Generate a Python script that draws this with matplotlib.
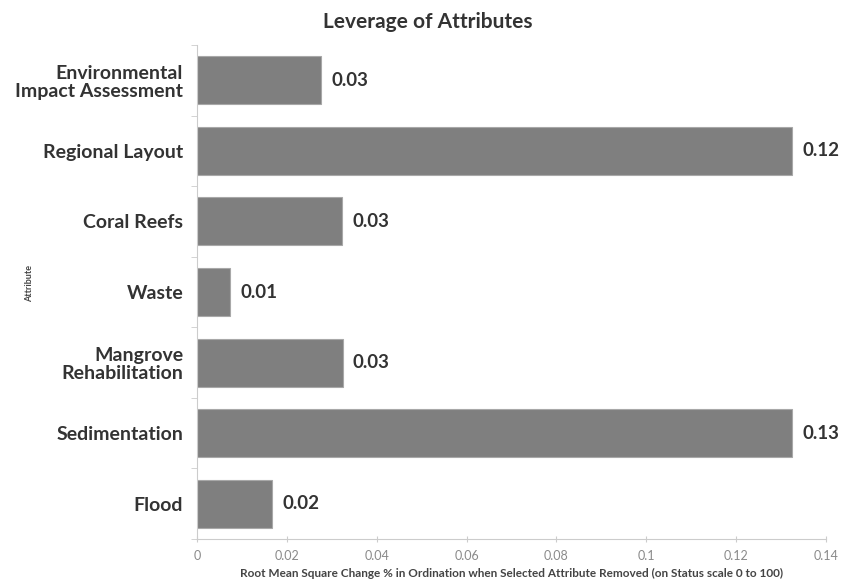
import matplotlib
matplotlib.use("Agg")
import matplotlib.pyplot as plt
import numpy as np

categories = ["Environmental\nImpact Assessment", "Regional Layout", "Coral Reefs", "Waste",
              "Mangrove\nRehabilitation", "Sedimentation", "Flood"]
values = [0.0276, 0.1324, 0.0323, 0.0074, 0.0324, 0.1324, 0.0168]
value_labels = ["0.03", "0.12", "0.03", "0.01", "0.03", "0.13", "0.02"]
xticks = [0, 0.02, 0.04, 0.06, 0.08, 0.1, 0.12, 0.14]
xtick_labels = ["0", "0.02", "0.04", "0.06", "0.08", "0.1", "0.12", "0.14"]

plt.rcParams['font.family'] = ['Lato', 'DejaVu Sans']

fig = plt.figure(figsize=(8.41, 5.83), dpi=100)
ax = fig.add_axes([197/841, 1-539/583, (826-197)/841, (539-45)/583])

y = np.arange(len(categories))[::-1]
ax.barh(y, values, height=0.68, color='#7f7f7f', edgecolor='#a8a8a8', linewidth=0.8)
for yi, v, lab in zip(y, values, value_labels):
    ax.annotate(lab, (v, yi), xytext=(7.5, 0), textcoords='offset points',
                va='center', ha='left', fontsize=13.5, fontweight='bold', color='#333333')

ax.set_ylim(-0.5, len(categories) - 0.5)
ax.set_xlim(0, 0.14)
ax.set_yticks(y)
ax.set_yticklabels(categories, fontsize=14, fontweight='bold', color='#333333', linespacing=1.1)
ax.set_yticks(np.arange(-0.5, len(categories), 1.0), minor=True)
ax.tick_params(axis='y', which='major', length=0, pad=10)
ax.tick_params(axis='y', which='minor', length=4, color='#cccccc', direction='out')
ax.set_xticks(xticks)
ax.set_xticklabels(xtick_labels, fontsize=9, color='#8a8a8a')
ax.tick_params(axis='x', length=4, color='#cccccc', direction='inout', pad=6)

for s in ['top', 'right']:
    ax.spines[s].set_visible(False)
for s in ['left', 'bottom']:
    ax.spines[s].set_color('#cccccc')
    ax.spines[s].set_linewidth(0.8)

ax.set_xlabel("Root Mean Square Change % in Ordination when Selected Attribute Removed (on Status scale 0 to 100)",
              fontsize=8.5, fontweight='bold', color='#444444', labelpad=4)
fig.text(30/841, 1-283/583, "Attribute", rotation=90, fontsize=6.5, fontweight='bold',
         color='#444444', ha='center', va='center')
fig.text(428/841, 1-22/583, "Leverage of Attributes", fontsize=15, fontweight='bold',
         color='#333333', ha='center', va='center')

fig.savefig("out.png", dpi=100)
